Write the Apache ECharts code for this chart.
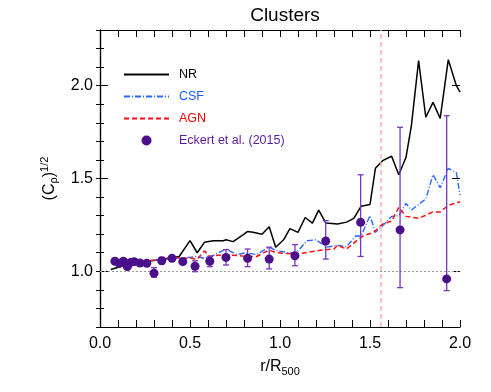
<!DOCTYPE html>
<html>
<head>
<meta charset="utf-8">
<script src="https://cdn.jsdelivr.net/npm/echarts@6/dist/echarts.min.js"></script>
<style>html,body{margin:0;padding:0;background:#fff;}#c{width:491px;height:392px;}</style>
</head>
<body>
<div id="c"></div>
<script>
// ---- data ----
const nrX = [0.06,0.13,0.22,0.31,0.44,0.50,0.54,0.58,0.63,0.685,0.70,0.74,0.80,0.82,0.85,0.90,0.94,0.976,1.02,1.055,1.10,1.14,1.18,1.215,1.255,1.32,1.37,1.41,1.45,1.50,1.53,1.57,1.62,1.66,1.70,1.73,1.77,1.81,1.85,1.89,1.935,1.98,2.0];
const nrY = [1.01,1.03,1.05,1.06,1.08,1.165,1.10,1.156,1.165,1.165,1.17,1.16,1.20,1.215,1.21,1.20,1.24,1.13,1.17,1.23,1.21,1.29,1.26,1.33,1.26,1.255,1.265,1.285,1.35,1.36,1.555,1.596,1.62,1.52,1.614,1.785,2.135,1.83,1.91,1.824,2.14,2.0,1.965];
const csfX = [0.06,0.13,0.22,0.31,0.41,0.50,0.54,0.58,0.63,0.70,0.76,0.81,0.87,0.94,0.98,1.055,1.09,1.15,1.20,1.26,1.32,1.37,1.42,1.45,1.50,1.53,1.57,1.62,1.66,1.70,1.73,1.77,1.81,1.85,1.89,1.935,1.98,2.0];
const csfY = [1.05,1.04,1.05,1.06,1.07,1.075,1.08,1.07,1.085,1.12,1.09,1.10,1.09,1.13,1.11,1.10,1.10,1.165,1.17,1.13,1.14,1.133,1.19,1.19,1.30,1.21,1.245,1.295,1.30,1.366,1.33,1.36,1.39,1.52,1.45,1.555,1.53,1.41];
const agnX = [0.06,0.13,0.22,0.31,0.41,0.50,0.54,0.58,0.61,0.685,0.76,0.81,0.87,0.94,0.98,1.055,1.11,1.17,1.24,1.30,1.32,1.37,1.42,1.46,1.52,1.57,1.62,1.66,1.70,1.77,1.85,1.89,1.935,2.0];
const agnY = [1.06,1.05,1.055,1.06,1.075,1.07,1.065,1.11,1.08,1.09,1.085,1.08,1.08,1.115,1.10,1.095,1.095,1.105,1.115,1.12,1.14,1.12,1.16,1.19,1.21,1.255,1.27,1.345,1.296,1.285,1.32,1.32,1.355,1.375];
const obsX  = [0.083,0.107,0.13,0.152,0.17,0.19,0.222,0.26,0.30,0.343,0.40,0.46,0.528,0.61,0.70,0.82,0.94,1.083,1.254,1.448,1.667,1.926];
const obsY  = [1.054,1.043,1.054,1.025,1.048,1.052,1.045,1.043,0.99,1.057,1.07,1.052,1.027,1.054,1.075,1.07,1.066,1.084,1.163,1.264,1.223,0.959];
const obsLo = [1.044,1.033,1.044,1.015,1.038,1.040,1.033,1.030,0.968,1.040,1.055,1.040,0.998,1.025,1.034,1.025,1.013,1.030,1.066,1.08,0.912,0.896];
const obsHi = [1.064,1.053,1.064,1.035,1.058,1.064,1.057,1.056,1.020,1.075,1.085,1.064,1.057,1.080,1.117,1.120,1.130,1.144,1.273,1.52,1.776,1.838];
const r500Line = 1.56;
const unityLine = 1.0;
const xTicks = [0, 0.5, 1.0, 1.5, 2.0];
const yTicks = [1.0, 1.5, 2.0];
const legendNames = ['NR', 'CSF', 'AGN', 'Eckert et al. (2015)'];

const pairs = (xs, ys) => xs.map((x, i) => [x, ys[i]]);
const FONT = 'Liberation Sans, Arial, sans-serif';

const chart = echarts.init(document.getElementById('c'), null, {renderer: 'canvas'});

const xBase = {
  type: 'value', min: 0, max: 2, interval: 0.5,
  axisLine: {show: true, lineStyle: {color: '#000', width: 1.2}},
  axisTick: {inside: true, length: 7, lineStyle: {color: '#000'}},
  minorTick: {show: true, splitNumber: 5, length: 7, lineStyle: {color: '#000'}},
  splitLine: {show: false}
};
const yMinor = {
  type: 'value', min: 0.7, max: 2.3, interval: 0.1,
  axisLine: {show: true, lineStyle: {color: '#000', width: 1.2}},
  axisTick: {inside: true, length: 4, lineStyle: {color: '#000'}},
  axisLabel: {show: false},
  splitLine: {show: false}
};

chart.setOption({
  animation: false,
  backgroundColor: '#fff',
  textStyle: {fontFamily: FONT},
  title: {
    text: 'Clusters', left: 280, top: 1, textAlign: 'center',
    textStyle: {fontFamily: FONT, fontSize: 19, fontWeight: 'normal', color: '#000'}
  },
  grid: {left: 100, right: 31, top: 30, bottom: 65},
  legend: {
    orient: 'vertical', left: 118, top: 63, itemWidth: 45, itemHeight: 10, itemGap: 9,
    textStyle: {fontFamily: FONT, fontSize: 12.5, padding: [0, 0, 0, 5]},
    itemStyle: {opacity: 0},
    data: [
      {name: legendNames[0], textStyle: {color: '#000'}},
      {name: legendNames[1], textStyle: {color: '#1a5cff'}},
      {name: legendNames[2], textStyle: {color: '#ff0000'}},
      {name: legendNames[3], textStyle: {color: '#5a1a9a'}, itemStyle: {opacity: 1}}
    ],
    selectedMode: false
  },
  xAxis: [
    Object.assign({}, xBase, {
      position: 'bottom',
      axisLabel: {show: true, customValues: xTicks, formatter: v => v.toFixed(1), color: '#000', fontSize: 16, margin: 9, fontFamily: FONT},
      name: '{n|r/R}{s|500}', nameLocation: 'middle', nameGap: 29,
      nameTextStyle: {rich: {n: {fontSize: 16, color: '#000', fontFamily: FONT}, s: {fontSize: 11, color: '#000', fontFamily: FONT, padding: [10, 0, 0, 0]}}}
    }),
    Object.assign({}, xBase, {position: 'top', axisLabel: {show: false}})
  ],
  yAxis: [
    Object.assign({}, yMinor, {
      position: 'left',
      name: '{n|(C}{s|ρ}{n|)}{p|1/2}', nameLocation: 'middle', nameGap: 40, nameRotate: 90,
      nameTextStyle: {rich: {
        n: {fontSize: 16, color: '#000', fontFamily: FONT},
        s: {fontSize: 11, color: '#000', fontFamily: FONT, padding: [8, 0, 0, 0]},
        p: {fontSize: 11, color: '#000', fontFamily: FONT, padding: [0, 0, 10, 0]}
      }}
    }),
    Object.assign({}, yMinor, {position: 'right'}),
    {
      type: 'value', min: 0.7, max: 2.3, position: 'left',
      axisLine: {show: false},
      axisTick: {show: true, inside: true, length: 8, customValues: yTicks, lineStyle: {color: '#000'}},
      axisLabel: {show: true, customValues: yTicks, formatter: v => v.toFixed(1), color: '#000', fontSize: 16, margin: 7, fontFamily: FONT},
      splitLine: {show: false}
    },
    {
      type: 'value', min: 0.7, max: 2.3, position: 'right',
      axisLine: {show: false},
      axisTick: {show: true, inside: true, length: 8, customValues: yTicks, lineStyle: {color: '#000'}},
      axisLabel: {show: false},
      splitLine: {show: false}
    }
  ],
  series: [
    {
      name: 'refs', type: 'line', data: [], silent: true,
      markLine: {
        silent: true, symbol: 'none', label: {show: false},
        data: [
          {xAxis: r500Line, lineStyle: {color: '#ffb3b3', type: [5, 3], width: 1.5}},
          {yAxis: unityLine, lineStyle: {color: '#999', type: [2, 2], width: 1}}
        ]
      }
    },
    {
      name: 'NR', type: 'line', data: pairs(nrX, nrY), symbol: 'none', z: 3,
      lineStyle: {color: '#000', width: 1.5}, itemStyle: {color: '#000'}
    },
    {
      name: 'CSF', type: 'line', data: pairs(csfX, csfY), symbol: 'none', z: 3,
      lineStyle: {color: '#2a66ff', width: 1.4, type: [6, 2, 1, 2]}, itemStyle: {color: '#2a66ff'}
    },
    {
      name: 'AGN', type: 'line', data: pairs(agnX, agnY), symbol: 'none', z: 4,
      lineStyle: {color: '#ff1010', width: 1.5, type: [5, 3]}, itemStyle: {color: '#ff1010'}
    },
    {
      name: 'errors', type: 'custom', z: 5, silent: true,
      data: obsX.map((x, i) => [x, obsLo[i], obsHi[i]]),
      renderItem: function (params, api) {
        const x = api.value(0);
        const p1 = api.coord([x, api.value(1)]);
        const p2 = api.coord([x, api.value(2)]);
        const w = 3;
        const st = {stroke: '#7a36bf', lineWidth: 1.3};
        return {
          type: 'group',
          children: [
            {type: 'line', shape: {x1: p1[0], y1: p1[1], x2: p2[0], y2: p2[1]}, style: st},
            {type: 'line', shape: {x1: p1[0] - w, y1: p1[1], x2: p1[0] + w, y2: p1[1]}, style: st},
            {type: 'line', shape: {x1: p2[0] - w, y1: p2[1], x2: p2[0] + w, y2: p2[1]}, style: st}
          ]
        };
      }
    },
    {
      name: 'Eckert et al. (2015)', type: 'scatter', z: 6,
      data: pairs(obsX, obsY), symbol: 'circle', symbolSize: 9,
      itemStyle: {color: '#4b0f8c', opacity: 1}
    }
  ]
});
</script>
</body>
</html>
